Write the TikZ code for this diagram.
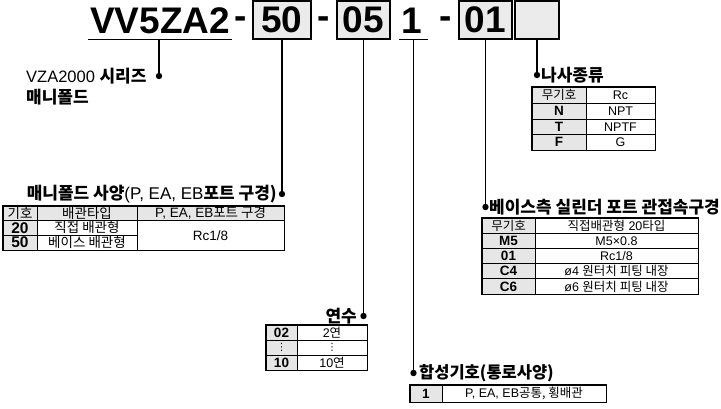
\documentclass[tikz,border=0pt]{standalone}
\usepackage{fontspec}
\setmainfont{Liberation Sans}
\newfontfamily\kr{Noto Sans CJK KR}
\newfontfamily\dvs{DejaVu Sans}
\newcommand\K[1]{{\kr #1}}
\definecolor{cellgray}{HTML}{E6E6E6}
\definecolor{boxgray}{HTML}{EBEBEB}
% name, x1, y1, x2, y2, style, text
\newcommand\tcell[7]{\node[#6,minimum width={#4-#2},minimum height={#5-#3},anchor=center] (#1) at ({(#2+#4)/2},{(#3+#5)/2}) {#7};}
\begin{document}
\begin{tikzpicture}[x=1pt,y=-1pt,
  conn/.style={line width=1.3pt},
  dotnode/.style={circle,fill=black,inner sep=0pt,minimum size=6.4pt},
  codebox/.style={draw,line width=1.3pt,fill=boxgray,inner sep=0pt,font=\fontsize{37}{37}\selectfont\bfseries},
  bigtxt/.style={inner sep=0pt,font=\fontsize{37}{37}\selectfont\bfseries},
  lbl/.style={inner sep=0pt,font=\fontsize{17}{19}\selectfont\bfseries},
  cell/.style={draw,line width=0.7pt,inner sep=0pt,font=\fontsize{12.5}{13}\selectfont},
  gcell/.style={cell,fill=cellgray},
  bcell/.style={gcell,font=\fontsize{13.5}{14}\selectfont\bfseries},
  mcell/.style={cell,font=\fontsize{13.5}{14}\selectfont},
  mgcell/.style={mcell,fill=cellgray},
  mbcell/.style={mgcell,font=\fontsize{15.5}{15.5}\selectfont\bfseries},
  outer/.style={line width=1.3pt}
]
\useasboundingbox (0,0) rectangle (721,408);

% ---- code row ----
\node[bigtxt,anchor=base west] (title) at (90,33) {VV5ZA2};
\draw[conn] (88,39.5) -- (232,39.5);
\coordinate (t1) at (159,39.5);
\node[bigtxt,anchor=base] (h1) at (240.5,28.5) {-};
\node[codebox,minimum width=58,minimum height=38] (b50) at (282,20) {50};
\node[bigtxt,anchor=base] (h2) at (324,28.5) {-};
\node[codebox,minimum width=53,minimum height=38] (b05) at (363.5,20) {05};
\node[bigtxt,anchor=base] (one) at (412,33) {1};
\draw[conn] (399,39.5) -- (428,39.5);
\coordinate (t4) at (413.5,39.5);
\node[bigtxt,anchor=base] (h3) at (445.5,28.5) {-};
\node[codebox,minimum width=53,minimum height=38] (b01) at (485.5,20) {01};
\node[codebox,minimum width=44,minimum height=38] (bx) at (537,20) {};

% ---- dots ----
\node[dotnode] (d1) at (159,76) {};
\node[dotnode] (d2) at (282,194) {};
\node[dotnode] (d3) at (363.5,316) {};
\node[dotnode] (d4) at (413.5,373) {};
\node[dotnode] (d5) at (485.5,207) {};
\node[dotnode] (d6) at (537,75) {};

\draw[conn] (t1) -- (d1.center);
\draw[conn] (b50.south) -- (d2.center);
\draw[conn] (b05.south) -- (d3.center);
\draw[conn] (t4) -- (d4.center);
\draw[conn] (b01.south) -- (d5.center);
\draw[conn] (bx.south) -- (d6.center);

% ---- labels ----
\node[lbl,anchor=west] (l1a) at (26,76) {{\mdseries\fontsize{16.5}{19}\selectfont VZA2000 }\K{시리즈}};
\node[lbl,anchor=west] (l1b) at (26,97) {\K{매니폴드}};
\node[lbl,anchor=east] (l2) at (277,194) {\K{매니폴드 사양}{\mdseries(P, EA, EB}\K{포트 구경)}};
\node[lbl,anchor=east] (l3) at (357,316) {\K{연수}};
\node[lbl,anchor=west,font=\fontsize{16.5}{19}\selectfont\bfseries] (l4) at (419,373) {\K{합성기호(통로사양)}};
\node[lbl,anchor=west] (l5) at (489,207) {\K{베이스측 실린더 포트 관접속구경}};
\node[lbl,anchor=west] (l6) at (541,75) {\K{나사종류}};

% ---- manifold table ----
\tcell{a11}{3}{206}{37}{220.5}{mgcell}{\K{기호}}
\tcell{a12}{37}{206}{137}{220.5}{mgcell}{\K{배관타입}}
\tcell{a13}{137}{206}{284}{220.5}{mgcell}{P, EA, EB\K{포트 구경}}
\tcell{a21}{3}{220.5}{37}{235}{mbcell}{20}
\tcell{a22}{37}{220.5}{137}{235}{mcell}{\K{직접 배관형}}
\tcell{a31}{3}{235}{37}{250}{mbcell}{50}
\tcell{a32}{37}{235}{137}{250}{mcell}{\K{베이스 배관형}}
\tcell{a23}{137}{220.5}{284}{250}{mcell}{Rc1/8}
\draw[outer] (a11.north west) rectangle (a23.south east);

% ---- thread table ----
\tcell{n11}{532}{87}{586}{103}{gcell}{\K{무기호}}
\tcell{n12}{586}{87}{655}{103}{cell}{Rc}
\tcell{n21}{532}{103}{586}{119}{bcell}{N}
\tcell{n22}{586}{103}{655}{119}{cell}{NPT}
\tcell{n31}{532}{119}{586}{134.5}{bcell}{T}
\tcell{n32}{586}{119}{655}{134.5}{cell}{NPTF}
\tcell{n41}{532}{134.5}{586}{150}{bcell}{F}
\tcell{n42}{586}{134.5}{655}{150}{cell}{G}
\draw[outer] (n11.north west) rectangle (n42.south east);

% ---- base port table ----
\tcell{s11}{482}{218}{535}{233.2}{gcell}{\K{무기호}}
\tcell{s12}{535}{218}{698}{233.2}{cell}{\K{직접배관형} 20\K{타입}}
\tcell{s21}{482}{233.2}{535}{248.4}{bcell}{M5}
\tcell{s22}{535}{233.2}{698}{248.4}{cell}{M5×0.8}
\tcell{s31}{482}{248.4}{535}{263.6}{bcell}{01}
\tcell{s32}{535}{248.4}{698}{263.6}{cell}{Rc1/8}
\tcell{s41}{482}{263.6}{535}{278.8}{bcell}{C4}
\tcell{s42}{535}{263.6}{698}{278.8}{cell}{ø4 \K{원터치 피팅 내장}}
\tcell{s51}{482}{278.8}{535}{294}{bcell}{C6}
\tcell{s52}{535}{278.8}{698}{294}{cell}{ø6 \K{원터치 피팅 내장}}
\draw[outer] (s11.north west) rectangle (s52.south east);

% ---- stations table ----
\tcell{y11}{266}{325}{297}{340}{bcell}{02}
\tcell{y12}{297}{325}{367}{340}{cell}{2\K{연}}
\tcell{y21}{266}{340}{297}{355}{gcell}{{\dvs\fontsize{10}{10}\selectfont ⋮}}
\tcell{y22}{297}{340}{367}{355}{cell}{{\dvs\fontsize{10}{10}\selectfont ⋮}}
\tcell{y31}{266}{355}{297}{370}{bcell}{10}
\tcell{y32}{297}{355}{367}{370}{cell}{10\K{연}}
\draw[outer] (y11.north west) rectangle (y32.south east);

% ---- passage table ----
\tcell{c11}{410}{385}{442}{402}{bcell}{1}
\tcell{c12}{442}{385}{606}{402}{cell}{P, EA, EB\K{공통, 횡배관}}
\draw[outer] (c11.north west) rectangle (c12.south east);
\end{tikzpicture}
\end{document}
